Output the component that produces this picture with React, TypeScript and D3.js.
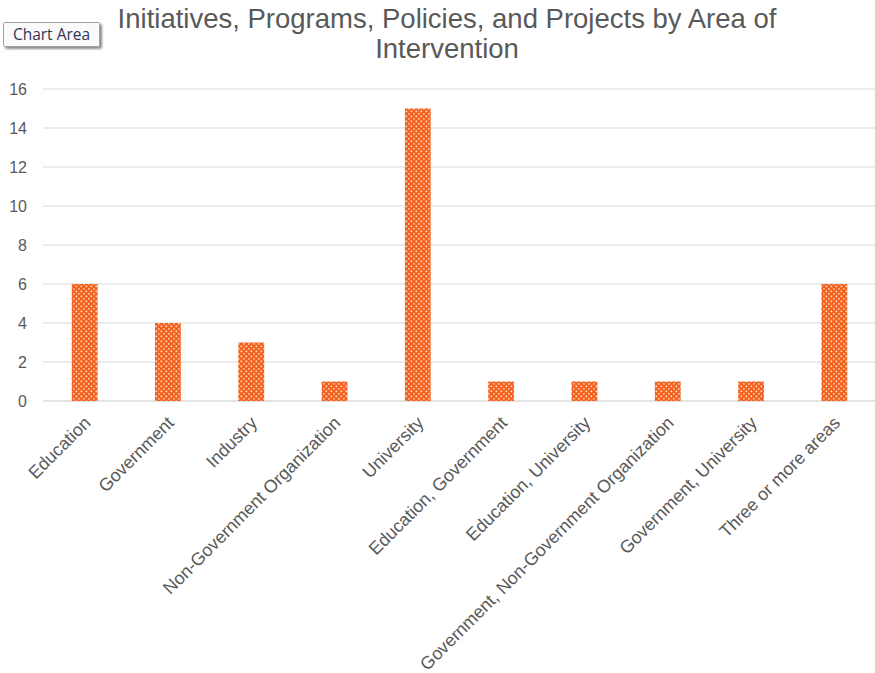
import React from "react";
import * as d3 from "d3";

const categories = [
  "Education",
  "Government",
  "Industry",
  "Non-Government Organization",
  "University",
  "Education, Government",
  "Education, University",
  "Government, Non-Government Organization",
  "Government, University",
  "Three or more areas",
];
const values = [6, 4, 3, 1, 15, 1, 1, 1, 1, 6];
const yTicks = [0, 2, 4, 6, 8, 10, 12, 14, 16];
const titleLines = ["Initiatives, Programs, Policies, and Projects by Area of", "Intervention"];

const W = 875;
const H = 673;
const M = { left: 43, right: 876, top: 89, bottom: 401 };

export default function App() {
  const x = d3.scaleBand<string>().domain(categories).range([M.left, M.right]).paddingInner(0.69).paddingOuter(0.345);
  const y = d3.scaleLinear().domain([0, 16]).range([M.bottom, M.top]);
  const font = "'Liberation Sans', Arial, sans-serif";
  return (
    <div style={{ position: "absolute", left: 0, top: 0, width: W, height: H, background: "#fff" }}>
      <svg width={W} height={H} style={{ display: "block" }}>
        <defs>
          <pattern id="dots" width={5} height={5} patternUnits="userSpaceOnUse">
            <rect width={5} height={5} fill="#F4601C" />
            <rect x={0.5} y={0.5} width={1.7} height={1.7} fill="#FDDCC4" />
            <rect x={3} y={3} width={1.7} height={1.7} fill="#FBC29A" />
          </pattern>
          <filter id="shadow" x="-10%" y="-20%" width="130%" height="160%">
            <feDropShadow dx={2} dy={2} stdDeviation={1} floodColor="#000" floodOpacity={0.45} />
          </filter>
        </defs>
        {yTicks.map((t) => (
          <g key={t}>
            <line x1={M.left} x2={M.right} y1={y(t)} y2={y(t)} stroke={t === 0 ? "#C8C8C8" : "#D9D9D9"} strokeWidth={1} />
            <text x={27} y={y(t)} dy="0.4em" textAnchor="end" fontFamily={font} fontSize={16} fill="#595959">
              {t}
            </text>
          </g>
        ))}
        {categories.map((c, i) => (
          <rect key={c} x={x(c)!} y={y(values[i])} width={x.bandwidth()} height={y(0) - y(values[i])} fill="url(#dots)" />
        ))}
        {categories.map((c) => {
          const cx = x(c)! + x.bandwidth() / 2 + 7;
          const cy = 424;
          return (
            <text key={c} transform={`translate(${cx},${cy}) rotate(-45)`} textAnchor="end" fontFamily={font} fontSize={17.8} fill="#595959">
              {c}
            </text>
          );
        })}
        {titleLines.map((l, i) => (
          <text key={i} x={447} y={28 + i * 30} textAnchor="middle" fontFamily={font} fontSize={27.5} fill="#595959">
            {l}
          </text>
        ))}
        <g filter="url(#shadow)">
          <rect x={3.5} y={22.5} width={96} height={24} fill="#FAFAFA" stroke="#A0A0A0" strokeWidth={1} rx={1} />
        </g>
        <text x={51.5} y={40} textAnchor="middle" fontFamily="'Open Sans', 'Noto Sans', sans-serif" fontSize={15.5} fill="#333355">
          Chart Area
        </text>
      </svg>
    </div>
  );
}
